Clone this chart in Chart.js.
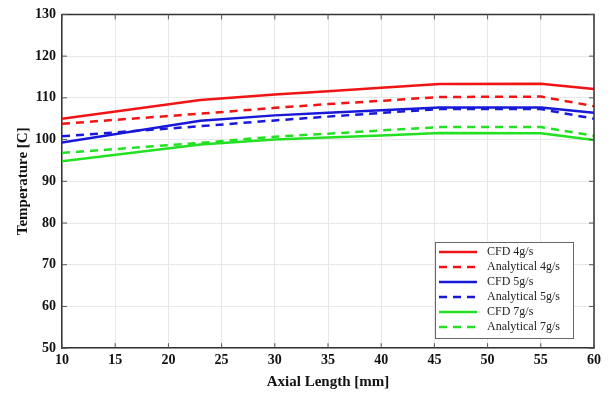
<!DOCTYPE html>
<html>
<head>
<meta charset="UTF-8">
<title>Temperature vs Axial Length</title>
<script src="https://cdn.jsdelivr.net/npm/chart.js@4.4.2/dist/chart.umd.min.js"></script>
<style>
  html, body { margin: 0; padding: 0; background: #fff; }
  #wrap { width: 611px; height: 395px; }
</style>
</head>
<body>
<div id="wrap"><canvas id="c"></canvas></div>
<script>
// axial length [mm] of the sampled points
const axial = [10, 23, 30, 35, 40, 45.5, 55, 60];

// temperatures [C]
const cfd4 = [105.0, 109.5, 110.8, 111.6, 112.4, 113.3, 113.4, 112.1];
const ana4 = [103.8, 106.2, 107.6, 108.5, 109.3, 110.2, 110.3, 108.0];
const cfd5 = [99.3, 104.5, 105.8, 106.4, 107.0, 107.7, 107.7, 106.4];
const ana5 = [100.8, 103.2, 104.6, 105.5, 106.4, 107.3, 107.3, 105.0];
const cfd7 = [94.8, 98.8, 100.0, 100.5, 101.0, 101.6, 101.5, 99.9];
const ana7 = [96.8, 99.2, 100.7, 101.4, 102.2, 103.0, 103.0, 100.9];

const xTicks = [10, 15, 20, 25, 30, 35, 40, 45, 50, 55, 60];
const yTicks = [50, 60, 70, 80, 90, 100, 110, 120, 130];

const RED = '#f01414', BLUE = '#1818d8', GREEN = '#22e022';
const DASH = [8, 6];

function pts(ys) { return ys.map((y, i) => ({ x: axial[i], y: y })); }

function ds(label, ys, color, dashed) {
  return {
    label: label,
    data: pts(ys),
    borderColor: color,
    backgroundColor: color,
    borderWidth: 2.5,
    borderDash: dashed ? DASH : [],
    pointRadius: 0,
    tension: 0
  };
}

// legend drawn inside the plot area, bottom right
const boxLegend = {
  id: 'boxLegend',
  afterDraw(chart) {
    const ctx = chart.ctx;
    const x0 = 435, y0 = 242, w = 138, h = 96;
    ctx.save();
    ctx.fillStyle = '#fff';
    ctx.fillRect(x0, y0, w, h);
    ctx.strokeStyle = '#666';
    ctx.lineWidth = 1;
    ctx.strokeRect(x0 + 0.5, y0 + 0.5, w, h);
    ctx.font = '12px "Liberation Serif", serif';
    ctx.textBaseline = 'middle';
    chart.data.datasets.forEach((d, i) => {
      const y = y0 + 10 + i * 15;
      ctx.strokeStyle = d.borderColor;
      ctx.lineWidth = 2.5;
      ctx.setLineDash(d.borderDash);
      ctx.beginPath();
      ctx.moveTo(x0 + 4, y);
      ctx.lineTo(x0 + 42, y);
      ctx.stroke();
      ctx.setLineDash([]);
      ctx.fillStyle = '#222';
      ctx.fillText(d.label, x0 + 52, y);
    });
    ctx.restore();
  }
};

// black frame on top and right plus inward tick marks, as in the original
const frame = {
  id: 'frame',
  afterDraw(chart) {
    const a = chart.chartArea, ctx = chart.ctx;
    const sx = chart.scales.x, sy = chart.scales.y;
    ctx.save();
    ctx.strokeStyle = '#333';
    ctx.lineWidth = 1.5;
    ctx.beginPath();
    ctx.moveTo(a.left, a.top); ctx.lineTo(a.right, a.top); ctx.lineTo(a.right, a.bottom);
    ctx.stroke();
    ctx.lineWidth = 1;
    ctx.strokeStyle = '#555';
    ctx.beginPath();
    xTicks.forEach(v => {
      const px = sx.getPixelForValue(v);
      ctx.moveTo(px, a.bottom); ctx.lineTo(px, a.bottom - 5);
      ctx.moveTo(px, a.top); ctx.lineTo(px, a.top + 5);
    });
    yTicks.forEach(v => {
      const py = sy.getPixelForValue(v);
      ctx.moveTo(a.left, py); ctx.lineTo(a.left + 5, py);
      ctx.moveTo(a.right, py); ctx.lineTo(a.right - 5, py);
    });
    ctx.stroke();
    ctx.restore();
  }
};

new Chart(document.getElementById('c'), {
  type: 'line',
  data: {
    datasets: [
      ds('CFD 4g/s', cfd4, RED, false),
      ds('Analytical 4g/s', ana4, RED, true),
      ds('CFD 5g/s', cfd5, BLUE, false),
      ds('Analytical 5g/s', ana5, BLUE, true),
      ds('CFD 7g/s', cfd7, GREEN, false),
      ds('Analytical 7g/s', ana7, GREEN, true)
    ]
  },
  options: {
    responsive: true,
    maintainAspectRatio: false,
    animation: false,
    layout: { padding: { top: 4, right: 17, left: 14, bottom: 4 } },
    plugins: { legend: { display: false }, tooltip: { enabled: false } },
    scales: {
      x: {
        type: 'linear',
        min: 10, max: 60,
        afterBuildTicks: s => { s.ticks = xTicks.map(v => ({ value: v })); },
        grid: { color: '#e8e8e8', drawTicks: false },
        border: { color: '#333', width: 1.5 },
        ticks: { color: '#111', padding: 4, font: { family: '"Liberation Serif", serif', size: 14, weight: 'bold' } },
        title: { display: true, text: 'Axial Length [mm]', color: '#111', padding: 0,
                 font: { family: '"Liberation Serif", serif', size: 15, weight: 'bold' } }
      },
      y: {
        min: 50, max: 130,
        afterBuildTicks: s => { s.ticks = yTicks.map(v => ({ value: v })); },
        afterFit: s => { s.width = 48; },
        grid: { color: '#e8e8e8', drawTicks: false },
        border: { color: '#333', width: 1.5 },
        ticks: { color: '#111', padding: 6, font: { family: '"Liberation Serif", serif', size: 14, weight: 'bold' } },
        title: { display: true, text: 'Temperature [C]', color: '#111', padding: 0,
                 font: { family: '"Liberation Serif", serif', size: 15, weight: 'bold' } }
      }
    }
  },
  plugins: [boxLegend, frame]
});
</script>
</body>
</html>
